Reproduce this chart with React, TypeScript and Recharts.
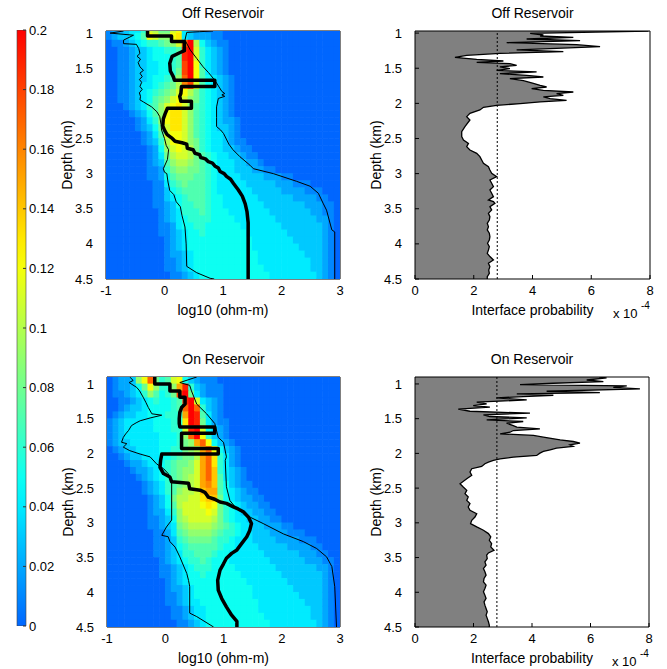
import React from 'react';
import {
  ScatterChart,
  Scatter,
  ComposedChart,
  Area,
  BarChart,
  Bar,
  XAxis,
  YAxis,
  ReferenceLine,
} from 'recharts';

const FONT = '"Liberation Sans", Arial, Helvetica, sans-serif';

// ---- axis ticks ----
const DEPTH_TICKS = [1, 1.5, 2, 2.5, 3, 3.5, 4, 4.5];
const RES_TICKS = [-1, 0, 1, 2, 3];
const PROB_TICKS = [0, 2, 4, 6, 8];
const CBAR_TICKS = [0, 0.02, 0.04, 0.06, 0.08, 0.1, 0.12, 0.14, 0.16, 0.18, 0.2];
const PROB_MEAN = 2.8; // dotted line, x 1e-4

// ---- heat map bins (top of each depth row, left of each log10 rho column) ----
const ROW_TOPS = [
  0.9, 1.0, 1.1, 1.2, 1.3, 1.4, 1.5, 1.6, 1.7, 1.8, 1.9, 2.0, 2.1, 2.2, 2.3, 2.4, 2.5, 2.6,
  2.7, 2.8, 2.9, 3.0, 3.1, 3.2, 3.3, 3.4, 3.5, 3.6, 3.7, 3.8, 3.9, 4.0, 4.1, 4.2, 4.3, 4.4,
];
const COL_LEFTS = [
  -1, -0.9, -0.8, -0.7, -0.6, -0.5, -0.4, -0.3, -0.2, -0.1, 0, 0.1, 0.2, 0.3, 0.4, 0.5, 0.6,
  0.7, 0.8, 0.9, 1.0, 1.1, 1.2, 1.3, 1.4, 1.5, 1.6, 1.7, 1.8, 1.9, 2.0, 2.1, 2.2, 2.3, 2.4,
  2.5, 2.6, 2.7, 2.8, 2.9,
];
// one char per cell, value in 0.01 steps: 0..9 then a..k (= 0.10..0.20)
const LEVELS = '0123456789abcdefghijk';

const OFF_GRID = [
  '1223446ba8 8bc4322111 0000000000 0000000000',
  '1233457cb9 9cd4322211 0000000000 0000000000',
  '0112345667 89bhka5321 1000000000 0000000000',
  '0011233455 667jkb6432 1000000000 0000000000',
  '0011233455 567jkb6432 1000000000 0000000000',
  '0011233445 567ikc6432 1000000000 0000000000',
  '0011233445 568ikc7432 1000000000 0000000000',
  '0011233455 679hkc7543 2100000000 0000000000',
  '0011234456 78agib7543 2100000000 0000000000',
  '0011234567 89bca86543 2100000000 0000000000',
  '0011234578 9bcb986543 2100000000 0000000000',
  '0001234679 bcdb976543 2100000000 0000000000',
  '0000123579 cddb976543 2100000000 0000000000',
  '0000012469 cddb976543 2210000000 0000000000',
  '0000012358 bddb976543 3210000000 0000000000',
  '0000001247 bccb976544 3210000000 0000000000',
  '0000001236 accb986544 3211000000 0000000000',
  '0000000125 9bcba86544 3321100000 0000000000',
  '0000000124 8abba87654 4332110000 0000000000',
  '0000000123 79aa987654 4433221000 0000000000',
  '0000000112 6899887654 4433322110 0000000000',
  '0000000112 5788877654 4443333222 1100000000',
  '0000000011 4678777654 4444333332 2211100000',
  '0000000011 3567777654 4444433333 2222111000',
  '0000000011 3456777655 4444443333 3322221100',
  '0000000011 2356677655 4444444333 3333222110',
  '0000000001 2346667655 5444444433 3333322110',
  '0000000001 2345666655 5544444443 3333332210',
  '0000000001 1245566555 5554444444 3333333210',
  '0000000001 1234556555 5555444444 4333333210',
  '0000000000 1234555555 5555544444 4433333210',
  '0000000000 1234555555 5555544444 4443333210',
  '0000000000 1223455555 5555554444 4444333210',
  '0000000000 1123455555 5555554444 4444433210',
  '0000000000 1123455555 5555555444 4444433210',
  '0000000000 0112345555 5555555544 4444443210',
];

const ON_GRID = [
  '012239ch86 7bc5321110 0000000000 0000000000',
  '0122358c96 69fj632111 0000000000 0000000000',
  '0112346975 68ik842111 0000000000 0000000000',
  '0011234565 567jkb4321 0000000000 0000000000',
  '0012334555 567hkh6321 0000000000 0000000000',
  '0123344555 666fkj7421 0000000000 0000000000',
  '1234444455 566dkj8421 1000000000 0000000000',
  '1234444455 566bjkb532 1000000000 0000000000',
  '1234444445 5569hkc632 1000000000 0000000000',
  '1233444445 55689fhc53 2100000000 0000000000',
  '0123344445 56689afhc5 3210000000 0000000000',
  '0012334445 56788afhd6 4210000000 0000000000',
  '0001223445 67889bfhd6 4210000000 0000000000',
  '0000122345 67899bfhe6 4321000000 0000000000',
  '0000012345 6789abfhe7 4321000000 0000000000',
  '0000001234 6789abfge7 5321100000 0000000000',
  '0000001234 679aabeff7 5432110000 0000000000',
  '0000000123 58aabbdee8 5432211000 0000000000',
  '0000000123 57abbbcdc8 6543221100 0000000000',
  '0000000122 469bbbbcb8 6543322110 0000000000',
  '0000000112 359abbbba8 6544332211 0000000000',
  '0000000112 3489aaaa98 7654433222 1100000000',
  '0000000011 2478999987 6654433322 2111000000',
  '0000000011 2367888876 6544433332 2221110000',
  '0000000011 2356777776 5544443333 3222211000',
  '0000000011 2346677765 5444444333 3332221100',
  '0000000001 2345667655 5444444433 3333222110',
  '0000000001 1234566655 5544444443 3333332210',
  '0000000001 1234556555 5554444444 3333333210',
  '0000000000 1234555555 5555444444 4333333210',
  '0000000000 1223455555 5555544444 4433333210',
  '0000000000 1123455555 5555544444 4443333210',
  '0000000000 1123445555 5555554444 4444333210',
  '0000000000 0112344555 5555554444 4444433210',
  '0000000000 0112344555 5555555444 4444433210',
  '0000000000 0011234555 5555555544 4444443210',
];

// ---- profiles: [log10 rho, depth km] ----
const OFF_MODEL = [
  [-0.29, 0.97], [-0.29, 1.04], [0.12, 1.04], [0.12, 1.12], [0.34, 1.12], [0.34, 1.25],
  [0.26, 1.28], [0.13, 1.33], [0.09, 1.43], [0.1, 1.54], [0.15, 1.62], [0.17, 1.67],
  [0.86, 1.67], [0.86, 1.76], [0.29, 1.76], [0.28, 1.86], [0.26, 1.9], [0.28, 1.97],
  [0.46, 1.97], [0.46, 2.07], [0.05, 2.07], [0.01, 2.15], [-0.02, 2.22], [-0.03, 2.32],
  [0.0, 2.38], [0.04, 2.44], [0.12, 2.49], [0.18, 2.54], [0.3, 2.56], [0.38, 2.58],
  [0.39, 2.64], [0.49, 2.66], [0.52, 2.71], [0.6, 2.73], [0.62, 2.77], [0.7, 2.79],
  [0.75, 2.83], [0.82, 2.85], [0.86, 2.89], [0.92, 2.92], [0.95, 2.97], [1.02, 3.0],
  [1.06, 3.04], [1.13, 3.08], [1.18, 3.14], [1.26, 3.23], [1.33, 3.32], [1.38, 3.43],
  [1.41, 3.54], [1.43, 3.7], [1.43, 4.5],
];
const OFF_LOWER = [
  [-0.7, 0.97], [-0.93, 1.0], [-0.53, 1.03], [-0.7, 1.1], [-0.7, 1.15], [-0.48, 1.16],
  [-0.44, 1.22], [-0.42, 1.29], [-0.47, 1.33], [-0.41, 1.37], [-0.45, 1.42], [-0.42, 1.48],
  [-0.36, 1.53], [-0.42, 1.57], [-0.38, 1.62], [-0.43, 1.66], [-0.39, 1.7], [-0.42, 1.76],
  [-0.38, 1.8], [-0.43, 1.85], [-0.41, 1.9], [-0.42, 1.95], [-0.36, 1.98], [-0.22, 2.05],
  [-0.13, 2.12], [-0.08, 2.19], [-0.06, 2.3], [-0.05, 2.38], [0.0, 2.5], [0.03, 2.6],
  [0.07, 2.66], [0.05, 2.8], [-0.02, 2.93], [0.0, 2.98], [0.04, 3.0], [0.06, 3.12],
  [0.09, 3.24], [0.16, 3.3], [0.2, 3.4], [0.27, 3.47], [0.3, 3.6], [0.35, 3.76],
  [0.37, 4.0], [0.38, 4.32], [0.55, 4.41], [0.78, 4.49], [0.85, 4.5],
];
const OFF_UPPER = [
  [0.83, 0.97], [0.6, 0.98], [0.38, 0.99], [0.35, 1.1], [0.44, 1.24], [0.55, 1.36],
  [0.66, 1.48], [0.75, 1.56], [0.83, 1.64], [0.89, 1.71], [0.98, 1.83], [1.03, 1.86],
  [0.98, 1.88], [1.03, 1.9], [0.92, 1.93], [0.89, 2.05], [0.89, 2.2], [0.89, 2.33],
  [0.96, 2.38], [1.01, 2.43], [1.1, 2.58], [1.17, 2.66], [1.29, 2.76], [1.46, 2.88],
  [1.52, 2.93], [1.86, 3.0], [2.26, 3.11], [2.49, 3.18], [2.63, 3.28], [2.71, 3.42],
  [2.77, 3.52], [2.86, 3.8], [2.91, 3.83], [2.91, 4.5],
];
const ON_MODEL = [
  [-0.18, 0.9], [-0.18, 1.0], [0.08, 1.0], [0.08, 1.1], [0.25, 1.1], [0.25, 1.19],
  [0.34, 1.19], [0.34, 1.29], [0.28, 1.34], [0.25, 1.41], [0.24, 1.5], [0.24, 1.57],
  [0.25, 1.62], [0.85, 1.62], [0.85, 1.71], [0.28, 1.71], [0.28, 1.93], [0.91, 1.93],
  [0.91, 2.01], [-0.06, 2.01], [-0.08, 2.1], [-0.09, 2.2], [-0.03, 2.29], [0.08, 2.34],
  [0.11, 2.41], [0.4, 2.43], [0.42, 2.51], [0.6, 2.53], [0.68, 2.56], [0.74, 2.63],
  [0.85, 2.66], [0.94, 2.7], [1.05, 2.72], [1.17, 2.77], [1.25, 2.8], [1.34, 2.84],
  [1.43, 2.92], [1.48, 3.01], [1.45, 3.11], [1.4, 3.2], [1.31, 3.3], [1.23, 3.39],
  [1.14, 3.44], [1.05, 3.51], [1.0, 3.59], [0.94, 3.68], [0.9, 3.83], [0.91, 3.97],
  [0.97, 4.09], [1.05, 4.21], [1.14, 4.33], [1.23, 4.42], [1.23, 4.5],
];
const ON_LOWER = [
  [-0.61, 0.9], [-0.55, 0.95], [-0.62, 0.98], [-0.49, 1.05], [-0.44, 1.1], [-0.38, 1.19],
  [-0.33, 1.27], [-0.29, 1.34], [-0.23, 1.43], [-0.06, 1.45], [-0.26, 1.49], [-0.43, 1.53],
  [-0.5, 1.56], [-0.58, 1.6], [-0.63, 1.67], [-0.68, 1.72], [-0.72, 1.77], [-0.75, 1.84],
  [-0.66, 1.86], [-0.72, 1.91], [-0.61, 1.96], [-0.43, 2.01], [-0.26, 2.05], [-0.15, 2.15],
  [-0.03, 2.22], [0.05, 2.29], [0.11, 2.39], [0.11, 2.7], [0.11, 2.96], [0.02, 3.06],
  [-0.06, 3.18], [0.05, 3.2], [0.08, 3.27], [0.17, 3.35], [0.25, 3.49], [0.37, 3.73],
  [0.4, 3.83], [0.42, 3.92], [0.42, 4.3], [0.54, 4.35], [0.83, 4.5],
];
const ON_UPPER = [
  [0.54, 0.9], [0.25, 0.98], [0.42, 1.02], [0.45, 1.1], [0.54, 1.29], [0.71, 1.43],
  [0.85, 1.57], [0.91, 1.77], [1.0, 1.84], [1.05, 2.05], [1.03, 2.1], [1.05, 2.48],
  [1.11, 2.68], [1.23, 2.8], [1.46, 2.92], [1.68, 3.01], [2.03, 3.16], [2.37, 3.27],
  [2.6, 3.37], [2.77, 3.49], [2.86, 3.63], [2.91, 3.92], [2.94, 4.5],
];

// ---- interface probability: [depth km, prob x 1e-4] ----
const OFF_PROB = [
  [0.97, 7.95], [1.003, 3.92], [1.027, 4.37], [1.041, 4.26], [1.06, 5.39], [1.084, 3.8],
  [1.108, 5.62], [1.136, 3.12], [1.165, 5.5], [1.193, 6.3], [1.217, 4.82], [1.24, 3.46],
  [1.264, 5.05], [1.288, 2.89], [1.316, 1.76], [1.345, 1.36], [1.373, 2.1], [1.397, 3.01],
  [1.416, 2.1], [1.435, 3.23], [1.459, 3.46], [1.482, 2.89], [1.506, 3.23], [1.53, 2.78],
  [1.553, 4.14], [1.577, 2.89], [1.601, 3.8], [1.625, 4.37], [1.648, 3.23], [1.677, 3.69],
  [1.715, 4.03], [1.743, 4.26], [1.767, 4.48], [1.791, 3.97], [1.814, 4.37], [1.838, 5.39],
  [1.862, 4.82], [1.886, 5.05], [1.909, 4.37], [1.933, 4.6], [1.957, 5.16], [1.98, 4.26],
  [2.004, 3.58], [2.028, 2.78], [2.056, 2.33], [2.094, 2.21], [2.142, 1.87], [2.189, 1.76],
  [2.237, 1.87], [2.331, 1.7], [2.403, 1.59], [2.474, 1.59], [2.521, 1.65], [2.569, 1.82],
  [2.616, 1.76], [2.664, 1.87], [2.711, 2.1], [2.758, 2.21], [2.806, 2.27], [2.853, 2.33],
  [2.901, 2.5], [2.948, 2.55], [2.996, 2.61], [3.043, 2.78], [3.091, 2.55], [3.138, 2.61],
  [3.185, 2.67], [3.233, 2.55], [3.28, 2.61], [3.328, 2.67], [3.375, 2.5], [3.399, 2.67],
  [3.423, 2.72], [3.47, 2.55], [3.517, 2.61], [3.565, 2.5], [3.612, 2.55], [3.66, 2.53],
  [3.707, 2.46], [3.755, 2.5], [3.802, 2.46], [3.849, 2.53], [3.897, 2.55], [3.944, 2.53],
  [3.992, 2.47], [4.039, 2.53], [4.087, 2.5], [4.134, 2.46], [4.181, 2.55], [4.229, 2.67],
  [4.276, 2.5], [4.324, 2.55], [4.371, 2.51], [4.419, 2.53], [4.466, 2.46], [4.5, 2.46],
];
const ON_PROB = [
  [0.9, 6.3], [0.914, 6.55], [0.943, 5.87], [0.966, 6.44], [0.99, 4.73], [1.01, 3.59],
  [1.029, 7.24], [1.048, 6.78], [1.072, 7.69], [1.105, 4.5], [1.125, 6.32], [1.144, 3.48],
  [1.163, 4.73], [1.182, 3.7], [1.201, 2.79], [1.23, 3.82], [1.263, 2.11], [1.287, 2.45],
  [1.311, 1.99], [1.335, 2.56], [1.364, 1.48], [1.393, 1.88], [1.421, 3.93], [1.445, 2.34],
  [1.469, 2.56], [1.489, 3.82], [1.517, 2.45], [1.541, 3.7], [1.565, 3.13], [1.599, 3.36],
  [1.623, 3.48], [1.647, 4.27], [1.671, 3.36], [1.695, 3.25], [1.718, 2.91], [1.742, 4.05],
  [1.766, 4.39], [1.805, 4.96], [1.829, 5.41], [1.853, 5.64], [1.876, 5.3], [1.9, 5.41],
  [1.924, 4.84], [1.948, 4.62], [1.972, 4.39], [1.996, 4.27], [2.03, 4.16], [2.054, 3.36],
  [2.078, 2.91], [2.102, 2.68], [2.125, 2.51], [2.149, 2.39], [2.188, 2.28], [2.221, 1.94],
  [2.269, 1.88], [2.317, 1.94], [2.365, 1.77], [2.437, 1.54], [2.485, 1.65], [2.533, 1.77],
  [2.58, 1.71], [2.628, 1.82], [2.676, 1.77], [2.724, 1.88], [2.772, 1.82], [2.82, 1.88],
  [2.868, 2.11], [2.916, 2.05], [2.964, 1.94], [3.011, 1.9], [3.059, 2.11], [3.107, 2.34],
  [3.155, 2.51], [3.203, 2.59], [3.251, 2.54], [3.299, 2.62], [3.347, 2.59], [3.395, 2.7],
  [3.433, 2.51], [3.466, 2.45], [3.514, 2.47], [3.562, 2.39], [3.61, 2.43], [3.658, 2.34],
  [3.706, 2.39], [3.754, 2.43], [3.802, 2.36], [3.85, 2.34], [3.898, 2.43], [3.945, 2.39],
  [3.993, 2.34], [4.041, 2.39], [4.089, 2.43], [4.137, 2.36], [4.185, 2.39], [4.233, 2.43],
  [4.281, 2.47], [4.329, 2.43], [4.376, 2.47], [4.424, 2.51], [4.472, 2.54], [4.5, 2.54],
];

// truncated jet: 0 -> blue, 0.2 -> red
function jet(v: number) {
  const t = 0.225 + (Math.min(Math.max(v, 0), 0.2) / 0.2) * 0.65;
  const ch = (k: number) => Math.round(255 * Math.max(0, Math.min(1, 1.5 - Math.abs(4 * t - k))));
  return `rgb(${ch(3)},${ch(2)},${ch(1)})`;
}

function heatCells(grid: string[]) {
  const cells: { r: number; d: number; v: number }[] = [];
  grid.forEach((raw, i) => {
    const row = raw.replace(/ /g, '');
    COL_LEFTS.forEach((c, j) => {
      const idx = LEVELS.indexOf(row[j] || '0');
      cells.push({ r: c + 0.05, d: ROW_TOPS[i] + 0.05, v: Math.max(idx, 0) / 100 });
    });
  });
  return cells;
}

const toPts = (arr: number[][]) => arr.map(([r, d]) => ({ r, d }));
const noShape = () => <g />;

type Box = { x0: number; x1: number; y0: number; y1: number; dTop: number };
const TL: Box = { x0: 106, x1: 340, y0: 31, y1: 279, dTop: 0.97 };
const TR: Box = { x0: 415, x1: 650, y0: 31, y1: 279, dTop: 0.97 };
const BL: Box = { x0: 107, x1: 340, y0: 377, y1: 627, dTop: 0.9 };
const BR: Box = { x0: 415, x1: 649, y0: 377, y1: 627, dTop: 0.9 };

const AXIS_W = 80;
const XAXIS_H = 26;
const EDGE = 1;
const PAD_R = 9;
const PAD_T = 30;
const TICK = { fill: '#000', fontSize: 13, fontFamily: FONT };
const LINE = { stroke: '#000' };

function frame(b: Box) {
  return {
    left: b.x0 - AXIS_W,
    top: b.y0 - PAD_T - EDGE,
    width: AXIS_W + (b.x1 - b.x0) + EDGE + PAD_R,
    height: PAD_T + EDGE + (b.y1 - b.y0) + XAXIS_H,
  };
}

function HeatPanel({ box, grid, model, lower, upper }: { box: Box; grid: string[]; model: number[][]; lower: number[][]; upper: number[][] }) {
  const f = frame(box);
  const cw = ((box.x1 - box.x0) * 0.1) / 4;
  const chh = ((box.y1 - box.y0) * 0.1) / (4.5 - box.dTop);
  const cells = heatCells(grid);
  const cellShape = (p: any) =>
    p.cx == null || p.cy == null ? (
      <g />
    ) : (
      <rect x={p.cx - cw / 2 - 0.3} y={p.cy - chh / 2 - 0.3} width={cw + 0.6} height={chh + 0.6} fill={jet(p.payload.v)} />
    );
  return (
    <div style={{ position: 'absolute', left: f.left, top: f.top }}>
      <ScatterChart width={f.width} height={f.height} margin={{ top: PAD_T, right: PAD_R, bottom: 0, left: 0 }}>
        <XAxis type="number" dataKey="r" domain={[-1, 3]} ticks={RES_TICKS} interval={0} allowDataOverflow height={XAXIS_H} tickSize={0} tickMargin={7} tickLine={false} axisLine={LINE} tick={TICK} />
        <XAxis xAxisId="top" orientation="top" type="number" dataKey="r" domain={[-1, 3]} ticks={RES_TICKS} allowDataOverflow height={EDGE} tick={false} tickLine={false} axisLine={LINE} />
        <YAxis type="number" dataKey="d" domain={[box.dTop, 4.5]} reversed ticks={DEPTH_TICKS} interval={0} allowDataOverflow width={AXIS_W} tickSize={0} tickMargin={13} tickLine={false} axisLine={LINE} tick={TICK} />
        <YAxis yAxisId="right" orientation="right" type="number" dataKey="d" domain={[box.dTop, 4.5]} reversed ticks={DEPTH_TICKS} allowDataOverflow width={EDGE} tick={false} tickLine={false} axisLine={LINE} />
        <Scatter data={cells} shape={cellShape} isAnimationActive={false} />
        <Scatter data={toPts(lower)} line={{ stroke: '#000', strokeWidth: 1 }} shape={noShape} isAnimationActive={false} />
        <Scatter data={toPts(upper)} line={{ stroke: '#000', strokeWidth: 1 }} shape={noShape} isAnimationActive={false} />
        <Scatter data={toPts(model)} line={{ stroke: '#000', strokeWidth: 3.5, strokeLinejoin: 'round' }} shape={noShape} isAnimationActive={false} />
      </ScatterChart>
    </div>
  );
}

function ProbPanel({ box, prob }: { box: Box; prob: number[][] }) {
  const f = frame(box);
  const data = prob.map(([d, p]) => ({ d, p }));
  return (
    <div style={{ position: 'absolute', left: f.left, top: f.top }}>
      <ComposedChart layout="vertical" data={data} width={f.width} height={f.height} margin={{ top: PAD_T, right: PAD_R, bottom: 0, left: 0 }}>
        <XAxis type="number" domain={[0, 8]} ticks={PROB_TICKS} interval={0} allowDataOverflow height={XAXIS_H} tickSize={-4} tickMargin={11} tickLine={LINE} axisLine={LINE} tick={TICK} />
        <XAxis xAxisId="top" orientation="top" type="number" domain={[0, 8]} ticks={PROB_TICKS} allowDataOverflow height={EDGE} tick={false} tickSize={-4} tickLine={LINE} axisLine={LINE} />
        <YAxis type="number" dataKey="d" domain={[box.dTop, 4.5]} ticks={DEPTH_TICKS} interval={0} allowDataOverflow width={AXIS_W} tickSize={-4} tickMargin={17} tickLine={LINE} axisLine={LINE} tick={TICK} />
        <YAxis yAxisId="right" orientation="right" type="number" dataKey="d" domain={[box.dTop, 4.5]} ticks={DEPTH_TICKS} allowDataOverflow width={EDGE} tick={false} tickSize={-4} tickLine={LINE} axisLine={LINE} />
        <Area type="linear" dataKey="p" fill="#808080" fillOpacity={1} stroke="#000" strokeWidth={1.3} isAnimationActive={false} />
        <ReferenceLine x={PROB_MEAN} stroke="#000" strokeWidth={1} strokeDasharray="2 2" />
      </ComposedChart>
    </div>
  );
}

function ColorBar() {
  const data = [{ k: 'cb', v: CBAR_TICKS[CBAR_TICKS.length - 1] }];
  return (
    <div style={{ position: 'absolute', left: 0, top: 0 }}>
      <BarChart width={64} height={660} data={data} margin={{ top: 30, right: 0, bottom: 34, left: 16 }} barCategoryGap={0}>
        <defs>
          <linearGradient id="cbarGrad" x1="0" y1="1" x2="0" y2="0">
            {LEVELS.split('').map((ch, i) => (
              <stop key={ch} offset={`${(i / (LEVELS.length - 1)) * 100}%`} stopColor={jet(i / 100)} />
            ))}
          </linearGradient>
        </defs>
        <XAxis dataKey="k" hide />
        <YAxis yAxisId="l" orientation="left" width={1} domain={[0, 0.2]} ticks={CBAR_TICKS} allowDataOverflow tick={false} tickSize={-3} axisLine={false} tickLine={{ stroke: '#333' }} />
        <YAxis orientation="right" width={38} domain={[0, 0.2]} ticks={CBAR_TICKS} interval={0} allowDataOverflow tickSize={-3} tickMargin={6} axisLine={false} tickLine={{ stroke: '#333' }} tick={TICK} />
        <Bar dataKey="v" fill="url(#cbarGrad)" stroke="#444" strokeWidth={0.6} isAnimationActive={false} />
      </BarChart>
    </div>
  );
}

const TXT: React.CSSProperties = {
  position: 'absolute',
  fontFamily: FONT,
  fontSize: 14,
  lineHeight: '16px',
  color: '#000',
  whiteSpace: 'nowrap',
  textAlign: 'center',
};

function PanelText({ box, title, xlabel, scale }: { box: Box; title: string; xlabel: string; scale?: boolean }) {
  const cx = (box.x0 + box.x1) / 2;
  const cy = (box.y0 + box.y1) / 2;
  const labelX = box.x0 - 39;
  return (
    <>
      <div style={{ ...TXT, left: cx - 100, width: 200, top: box.y0 - 26 }}>{title}</div>
      <div style={{ ...TXT, left: cx - 100, width: 200, top: box.y1 + 23 }}>{xlabel}</div>
      <div style={{ ...TXT, left: labelX - 50, width: 100, top: cy - 8, transform: 'rotate(-90deg)' }}>Depth (km)</div>
      {scale && (
        <>
          <div style={{ ...TXT, left: box.x1 - 37, top: box.y1 + 27, fontSize: 13, textAlign: 'left' }}>x 10</div>
          <div style={{ ...TXT, left: box.x1 - 9, top: box.y1 + 19, fontSize: 10, textAlign: 'left' }}>-4</div>
        </>
      )}
    </>
  );
}

export default function App() {
  return (
    <div style={{ position: 'absolute', left: 0, top: 0, width: 667, height: 669, background: '#fff', overflow: 'hidden' }}>
      <ColorBar />
      <HeatPanel box={TL} grid={OFF_GRID} model={OFF_MODEL} lower={OFF_LOWER} upper={OFF_UPPER} />
      <ProbPanel box={TR} prob={OFF_PROB} />
      <HeatPanel box={BL} grid={ON_GRID} model={ON_MODEL} lower={ON_LOWER} upper={ON_UPPER} />
      <ProbPanel box={BR} prob={ON_PROB} />
      <PanelText box={TL} title="Off Reservoir" xlabel="log10 (ohm-m)" />
      <PanelText box={TR} title="Off Reservoir" xlabel="Interface probability" scale />
      <PanelText box={BL} title="On Reservoir" xlabel="log10 (ohm-m)" />
      <PanelText box={BR} title="On Reservoir" xlabel="Interface probability" scale />
    </div>
  );
}
